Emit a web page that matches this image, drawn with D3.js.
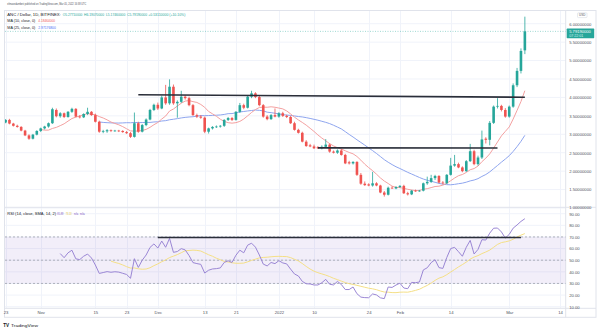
<!DOCTYPE html>
<html><head><meta charset="utf-8">
<script src="https://cdn.jsdelivr.net/npm/d3@7"></script>
<style>html,body{margin:0;padding:0;background:#fff;overflow:hidden}svg{display:block}text{font-family:"Liberation Sans",Arial,sans-serif}</style>
</head><body><svg id="c" width="600" height="331"></svg>
<script>
// ---------- DATA ----------
const firstDate = "2021-10-23"; // one candle per day
const opens  = [3.32,3.39,3.29,3.23,3.20,3.10,2.97,2.88,2.99,3.09,3.16,3.21,3.30,3.66,3.49,3.57,3.47,3.61,3.69,3.48,
                3.46,3.55,3.61,3.52,3.34,3.07,3.08,3.11,3.09,3.10,3.09,3.06,3.03,2.93,3.30,3.07,3.25,3.40,3.66,3.80,
                3.70,4.00,3.84,4.29,3.84,3.88,4.02,3.98,3.79,3.52,3.48,3.45,3.07,3.16,3.20,3.21,3.23,3.39,3.44,3.39,
                3.61,3.79,3.72,4.02,4.11,4.01,3.79,3.48,3.41,3.52,3.48,3.57,3.50,3.47,3.30,3.12,3.04,2.80,2.70,2.67,
                2.65,2.62,2.66,2.72,2.53,2.50,2.56,2.44,2.24,2.21,2.25,1.90,1.66,1.64,1.61,1.67,1.61,1.42,1.36,1.55,
                1.53,1.57,1.60,1.40,1.37,1.47,1.46,1.47,1.67,1.71,1.81,1.87,1.69,1.67,1.90,2.15,2.19,2.10,2.00,2.27,
                2.54,2.19,2.37,2.88,2.85,3.31,3.75,3.77,3.66,3.48,3.75,4.33,4.72,5.2771];
const highs  = [3.41,3.42,3.31,3.26,3.22,3.12,3.00,3.01,3.11,3.18,3.23,3.32,3.72,3.70,3.60,3.59,3.63,3.72,3.71,3.52,
                3.57,3.72,3.63,3.56,3.37,3.12,3.14,3.13,3.12,3.12,3.11,3.09,3.06,3.59,3.34,3.28,3.43,3.69,3.83,3.86,
                4.05,4.34,4.49,4.35,3.92,4.18,4.06,4.02,3.82,3.56,3.52,3.48,3.18,3.22,3.24,3.25,3.41,3.47,3.47,3.63,
                3.85,3.83,4.05,4.18,4.14,4.05,3.82,3.52,3.55,3.70,3.60,3.61,3.53,3.50,3.34,3.15,3.07,2.84,2.74,2.72,
                2.68,2.70,2.87,2.75,2.56,2.59,2.60,2.47,2.28,2.27,2.27,1.95,1.72,1.67,1.98,1.70,1.63,1.46,1.58,1.59,
                1.59,1.62,1.63,1.44,1.49,1.50,1.49,1.69,1.85,1.90,1.90,1.89,1.73,1.92,2.36,2.44,2.23,2.13,2.30,2.74,
                2.58,2.42,3.10,2.92,3.36,3.78,3.98,3.80,3.71,3.78,4.38,4.80,5.33,6.1907];
const lows   = [3.30,3.27,3.21,3.18,3.08,2.95,2.85,2.86,2.97,3.06,3.13,3.18,3.28,3.46,3.45,3.44,3.45,3.58,3.46,3.43,
                3.44,3.52,3.50,3.32,3.04,3.03,3.04,3.06,3.07,3.06,3.04,3.01,2.90,2.91,3.04,3.05,3.22,3.38,3.63,3.66,
                3.68,3.80,3.80,3.80,3.45,3.85,3.94,3.76,3.50,3.44,3.42,3.03,3.02,3.13,3.17,3.18,3.20,3.36,3.36,3.37,
                3.58,3.68,3.70,3.98,3.98,3.76,3.45,3.38,3.39,3.46,3.45,3.47,3.44,3.28,3.10,3.02,2.78,2.66,2.65,2.60,
                2.60,2.59,2.63,2.50,2.48,2.47,2.42,2.19,2.18,2.18,1.87,1.63,1.60,1.59,1.58,1.59,1.40,1.31,1.34,1.52,
                1.51,1.54,1.38,1.34,1.35,1.44,1.44,1.45,1.63,1.68,1.76,1.67,1.64,1.65,1.88,2.12,2.08,1.97,1.98,2.25,
                2.16,2.15,2.33,2.75,2.70,3.28,3.70,3.62,3.45,3.45,3.72,4.28,4.65,5.1746];
const closes = [3.39,3.29,3.23,3.20,3.10,2.97,2.88,2.99,3.09,3.16,3.21,3.30,3.68,3.49,3.57,3.47,3.61,3.69,3.48,3.46,
                3.55,3.61,3.52,3.34,3.07,3.09,3.11,3.09,3.10,3.09,3.06,3.03,2.93,3.30,3.07,3.25,3.40,3.66,3.80,3.70,
                4.00,3.84,4.29,3.84,3.88,4.02,3.98,3.79,3.52,3.48,3.45,3.07,3.16,3.20,3.21,3.23,3.39,3.44,3.39,3.61,
                3.79,3.72,4.02,4.11,4.01,3.79,3.48,3.41,3.52,3.48,3.57,3.50,3.47,3.30,3.12,3.04,2.80,2.68,2.67,2.62,
                2.62,2.66,2.72,2.53,2.50,2.56,2.44,2.21,2.21,2.25,1.90,1.66,1.62,1.61,1.67,1.61,1.42,1.36,1.55,1.53,
                1.57,1.60,1.40,1.37,1.47,1.46,1.47,1.67,1.71,1.81,1.87,1.69,1.67,1.90,2.15,2.19,2.10,2.00,2.27,2.54,
                2.19,2.37,2.86,2.85,3.31,3.75,3.77,3.66,3.48,3.75,4.33,4.72,5.2608,5.7919];
const lastPrice = 5.7919;
const maLengths = [10, 25];
const rsiLength = 14, rsiSmaLength = 14;
const priceTicks = [1.0,1.5,2.0,2.5,3.0,3.5,4.0,4.5,5.0,5.5,6.0];
const rsiTicks = [10,20,30,40,50,60,70,80,90];
const rsiBands = [70,50,30];
const xTickDates = ["2021-10-23","2021-11-01","2021-11-15","2021-11-23","2021-12-01","2021-12-13","2021-12-21",
                    "2022-01-01","2022-01-10","2022-01-24","2022-02-01","2022-02-14","2022-03-01","2022-03-14"];
const xTickLabels = ["23","Nov","15","23","Dec","13","21","2022","10","24","Feb","14","Mar","14"];
// drawn horizontal lines: [start date, start value, end date, end value]
const priceLines = [["2021-11-26",4.074,"2022-03-05",4.004],["2022-01-11",2.632,"2022-02-26",2.628]];
const rsiLines = [["2021-12-01",69.5,"2022-03-04",69.5]];

// ---------- SETUP ----------
const svg = d3.select("#c");
const parse = d3.utcParse("%Y-%m-%d");
const d0 = parse(firstDate);
const dates = closes.map((_, i) => d3.utcDay.offset(d0, i));
const candles = dates.map((d, i) => ({d, o: opens[i], h: highs[i], l: lows[i], c: closes[i]}));

const L = 5, R = 565.7, T = 11, paneSplit = 207.3, axisTop = 308.3, bottom = 317.3, outerR = 596;
const x = d3.scaleUtc().domain([parse("2021-11-01"), parse("2022-03-14")]).range([40.7, 560]);
const y = d3.scaleLinear().domain([1, 6]).range([208, 23.7]);
const yr = d3.scaleLinear().domain([10, 90]).range([306.7, 213.7]);

// indicators
function sma(arr, n) { return arr.map((v, i) => { if (i < n - 1 || arr.slice(i - n + 1, i + 1).some(a => a == null)) return null; return d3.mean(arr.slice(i - n + 1, i + 1)); }); }
function rsi(arr, n) {
  const out = arr.map(() => null); let g = 0, l = 0;
  for (let i = 1; i <= n; i++) { const ch = arr[i] - arr[i - 1]; g += Math.max(ch, 0); l += Math.max(-ch, 0); }
  g /= n; l /= n; out[n] = 100 - 100 / (1 + g / l);
  for (let i = n + 1; i < arr.length; i++) { const ch = arr[i] - arr[i - 1]; g = (g * (n - 1) + Math.max(ch, 0)) / n; l = (l * (n - 1) + Math.max(-ch, 0)) / n; out[i] = l === 0 ? 100 : 100 - 100 / (1 + g / l); }
  return out;
}
const ma10 = sma(closes, maLengths[0]);
const ma25 = sma(closes, maLengths[1]);
const rsiVals = rsi(closes, rsiLength);
const rsiSma = sma(rsiVals, rsiSmaLength);

// clips
const defs = svg.append("defs");
defs.append("clipPath").attr("id", "mainClip").append("rect").attr("x", L).attr("y", T).attr("width", R - L).attr("height", paneSplit - T);
defs.append("clipPath").attr("id", "rsiClip").append("rect").attr("x", L).attr("y", paneSplit).attr("width", R - L).attr("height", axisTop - paneSplit);

// grid
const grid = svg.append("g").attr("stroke", "#f0f3fa").attr("stroke-width", 1);
xTickDates.forEach(s => { const xx = Math.round(x(parse(s))) + 0.5; grid.append("line").attr("x1", xx).attr("x2", xx).attr("y1", T).attr("y2", axisTop); });
priceTicks.forEach(p => grid.append("line").attr("x1", L).attr("x2", R).attr("y1", y(p)).attr("y2", y(p)));
rsiTicks.forEach(p => grid.append("line").attr("x1", L).attr("x2", R).attr("y1", yr(p)).attr("y2", yr(p)));

// frame
const frame = svg.append("g").attr("stroke", "#e0e3eb").attr("stroke-width", 1).attr("fill", "none");
frame.append("rect").attr("x", L - 0.5).attr("y", T - 0.5).attr("width", outerR - L + 0.5).attr("height", bottom - T + 0.5);
frame.append("line").attr("x1", R).attr("x2", R).attr("y1", T).attr("y2", bottom);
frame.append("line").attr("x1", L).attr("x2", outerR).attr("y1", paneSplit).attr("y2", paneSplit);
frame.append("line").attr("x1", L).attr("x2", outerR).attr("y1", axisTop).attr("y2", axisTop);

// main pane
const main = svg.append("g").attr("clip-path", "url(#mainClip)");
main.append("line").attr("x1", L).attr("x2", R).attr("y1", y(lastPrice)).attr("y2", y(lastPrice))
  .attr("stroke", "#26a69a").attr("stroke-opacity", 0.55).attr("stroke-dasharray", "1,1.5").attr("stroke-width", 0.8);
const lineGen = d3.line().defined(d => d.v != null).x(d => x(d.d)).y(d => y(d.v));
main.append("path").datum(dates.map((d, i) => ({d, v: ma25[i]}))).attr("d", lineGen).attr("fill", "none").attr("stroke", "#8ea5ee").attr("stroke-width", 1);
main.append("path").datum(dates.map((d, i) => ({d, v: ma10[i]}))).attr("d", lineGen).attr("fill", "none").attr("stroke", "#f3a0a0").attr("stroke-width", 1);
const cg = main.selectAll("g.c").data(candles).join("g").attr("class", "c");
const col = d => d.c >= d.o ? "#26a69a" : "#ef5350";
cg.append("line").attr("x1", d => x(d.d)).attr("x2", d => x(d.d)).attr("y1", d => y(d.h)).attr("y2", d => y(d.l)).attr("stroke", col).attr("stroke-width", 0.8);
cg.append("rect").attr("x", d => x(d.d) - 1.3).attr("width", 2.6)
  .attr("y", d => y(Math.max(d.o, d.c))).attr("height", d => Math.max(0.7, Math.abs(y(d.o) - y(d.c)))).attr("fill", col);
priceLines.forEach(([a, pa, b, pb]) => main.append("line").attr("x1", x(parse(a))).attr("x2", x(parse(b))).attr("y1", y(pa)).attr("y2", y(pb))
  .attr("stroke", "#2a2e39").attr("stroke-width", 1.6));

// rsi pane
const rp = svg.append("g").attr("clip-path", "url(#rsiClip)");
rp.append("rect").attr("x", L).attr("width", R - L).attr("y", yr(70)).attr("height", yr(30) - yr(70)).attr("fill", "#7e57c2").attr("fill-opacity", 0.1);
rsiBands.forEach(b => rp.append("line").attr("x1", L).attr("x2", R).attr("y1", yr(b)).attr("y2", yr(b)).attr("stroke", "#9598a1").attr("stroke-width", 0.7).attr("stroke-dasharray", "2,2"));
const rLine = d3.line().defined(d => d.v != null).x(d => x(d.d)).y(d => yr(d.v));
rp.append("path").datum(dates.map((d, i) => ({d, v: rsiSma[i]}))).attr("d", rLine).attr("fill", "none").attr("stroke", "#f4df86").attr("stroke-width", 1);
rp.append("path").datum(dates.map((d, i) => ({d, v: rsiVals[i]}))).attr("d", rLine).attr("fill", "none").attr("stroke", "#9a86d4").attr("stroke-width", 1);
rsiLines.forEach(([a, va, b, vb]) => rp.append("line").attr("x1", x(parse(a))).attr("x2", x(parse(b))).attr("y1", yr(va)).attr("y2", yr(vb)).attr("stroke", "#2a2e39").attr("stroke-width", 1.6));

// axes
const axFont = 4.2, axCol = "#50535e";
const pAx = svg.append("g").attr("transform", `translate(${R},0)`).call(d3.axisRight(y).tickValues(priceTicks).tickFormat(d3.format(".8f")).tickSize(0).tickPadding(3.5));
const rAx = svg.append("g").attr("transform", `translate(${R},0)`).call(d3.axisRight(yr).tickValues(rsiTicks).tickFormat(d3.format(".2f")).tickSize(0).tickPadding(3.5));
const xAx = svg.append("g").attr("transform", `translate(0,${axitop = axisTop})`).call(d3.axisBottom(x).tickValues(xTickDates.map(parse)).tickFormat((d, i) => xTickLabels[i]).tickSize(0).tickPadding(3.2));
[pAx, rAx, xAx].forEach(g => { g.select(".domain").remove(); g.selectAll("text").attr("font-size", axFont).attr("fill", axCol).attr("font-family", "Liberation Sans, Arial, sans-serif"); });
pAx.selectAll("text").filter(d => d === 1).attr("dy", "0.0em");

// last price label
const lp = y(lastPrice);
svg.append("rect").attr("x", R + 1).attr("y", lp - 2.8).attr("width", 27.5).attr("height", 9.6).attr("fill", "#26a69a").attr("rx", 0.6);
svg.append("text").attr("x", R + 3.5).attr("y", lp + 1.5).attr("font-size", 4.1).attr("fill", "#fff").text(d3.format(".8f")(lastPrice));
svg.append("text").attr("x", R + 3.5).attr("y", lp + 5.8).attr("font-size", 3.6).attr("fill", "#d8f0ec").text("07:22:01");
// USD badge
svg.append("rect").attr("x", 577.5).attr("y", 12.8).attr("width", 9.5).attr("height", 4.8).attr("fill", "#fff").attr("stroke", "#d1d4dc").attr("stroke-width", 0.5).attr("rx", 0.8);
svg.append("text").attr("x", 582.2).attr("y", 16.3).attr("text-anchor", "middle").attr("font-size", 3).attr("fill", axCol).text("USD");

// header texts
function t(xp, yp, s, size, fill, len) { const e = svg.append("text").attr("x", xp).attr("y", yp).attr("font-size", size).attr("fill", fill).text(s); if (len) e.attr("textLength", len).attr("lengthAdjust", "spacingAndGlyphs"); return e; }
t(7.3, 5.4, "elmasedambeti published on TradingView.com, Mar 05, 2022 16:38 UTC", 3.1, "#50535e", 79);
const g1 = 16.1;
t(7.3, g1, "ANC / Dollar, 1D, BITFINEX:", 3.7, "#131722", 53.5);
t(62.7, g1, "O5.27710000", 3.7, "#26a69a", 19.6);
t(84, g1, "H6.19070000", 3.7, "#26a69a", 20);
t(106, g1, "L5.17460000", 3.7, "#26a69a", 19.3);
t(127, g1, "C5.79190000", 3.7, "#26a69a", 20);
t(148.3, g1, "+0.53110000 (+10.10%)", 3.7, "#26a69a", 37);
t(7.3, 22.4, "MA (10, close, 0)", 3.7, "#131722", 28);
t(38.3, 22.4, "4.18464000", 3.7, "#f05a5a", 16.7);
t(7.3, 29.3, "MA (25, close, 0)", 3.7, "#131722", 28);
t(38.3, 29.3, "2.97176800", 3.7, "#3f6df5", 17.5);
const g2 = 215.3;
t(7.3, g2, "RSI (14, close, SMA, 14, 2)", 3.7, "#131722", 48.7);
t(57.3, g2, "85.89", 3.7, "#7e57c2", 6);
t(65.7, g2, "73.13", 3.7, "#e0c23c", 6);
t(74, g2, "n/a", 3.7, "#7e57c2", 4.3);
t(80, g2, "n/a", 3.7, "#7e57c2", 4.8);
// logo
t(3.3, 326.8, "TV", 4.6, "#131722").attr("font-weight", "bold");
t(11, 326.5, "TradingView", 3.8, "#131722", 27);
</script></body></html>
